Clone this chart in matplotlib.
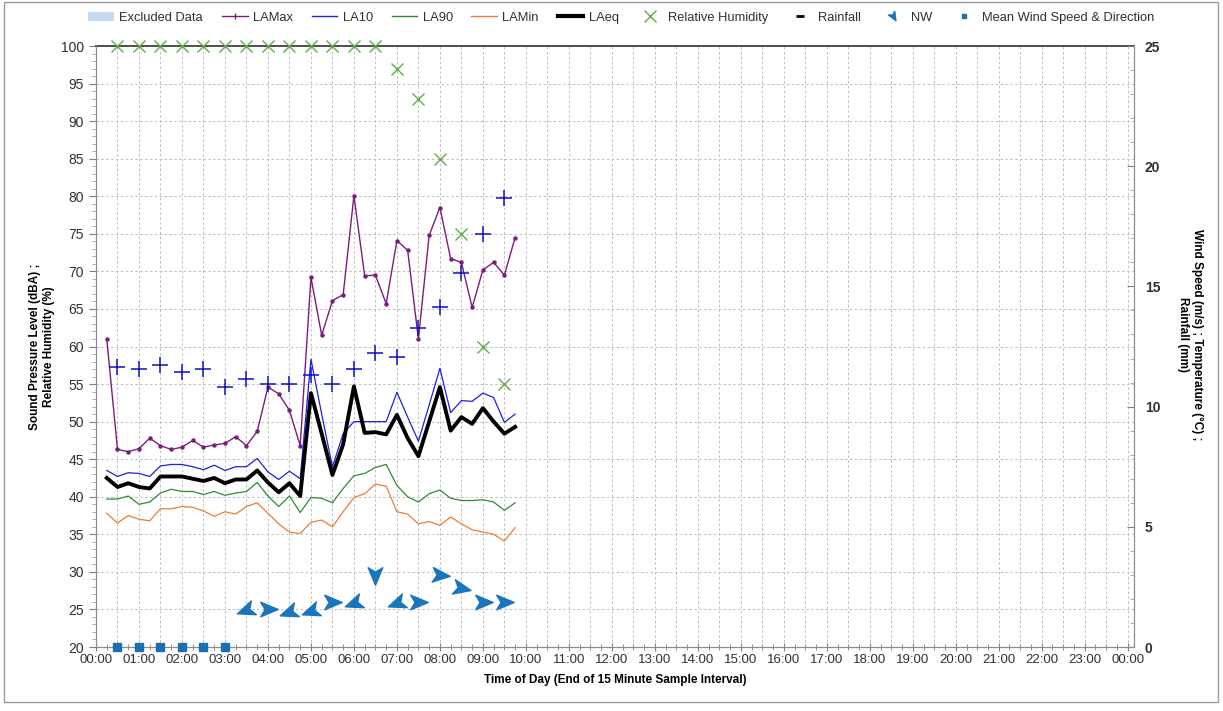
import numpy as np
import matplotlib
matplotlib.use("Agg")
import matplotlib.pyplot as plt
from matplotlib.lines import Line2D
from matplotlib.patches import Patch, Rectangle
from matplotlib.path import Path
from matplotlib.markers import MarkerStyle
from matplotlib.transforms import Affine2D

plt.rcParams['font.family'] = ['Liberation Sans', 'DejaVu Sans']

# --- Data (15 minute intervals, end of interval) ---
times_15 = ["00:15", "00:30", "00:45", "01:00", "01:15", "01:30", "01:45", "02:00",
            "02:15", "02:30", "02:45", "03:00", "03:15", "03:30", "03:45", "04:00",
            "04:15", "04:30", "04:45", "05:00", "05:15", "05:30", "05:45", "06:00",
            "06:15", "06:30", "06:45", "07:00", "07:15", "07:30", "07:45", "08:00",
            "08:15", "08:30", "08:45", "09:00", "09:15", "09:30", "09:45"]

lamax = [61.0, 46.3, 46.0, 46.4, 47.8, 46.8, 46.3, 46.6, 47.5, 46.6, 46.9, 47.1, 48.0,
         46.8, 48.7, 54.6, 53.7, 51.5, 46.8, 69.2, 61.5, 66.1, 66.9, 80.1, 69.4, 69.5,
         65.7, 74.1, 72.8, 61.0, 74.8, 78.5, 71.7, 71.2, 65.2, 70.2, 71.2, 69.5, 74.5]
la10 = [43.5, 42.7, 43.2, 43.1, 42.7, 44.1, 44.3, 44.3, 44.0, 43.6, 44.2, 43.5, 44.0,
        44.0, 45.1, 43.3, 42.3, 43.4, 42.4, 58.3, 51.0, 44.0, 48.4, 50.0, 50.0, 50.0,
        50.0, 53.9, 50.6, 47.4, 52.2, 57.1, 51.2, 52.8, 52.7, 53.8, 53.2, 49.9, 51.0]
la90 = [39.7, 39.7, 40.1, 39.0, 39.3, 40.5, 41.0, 40.7, 40.7, 40.3, 40.7, 40.2, 40.5,
        40.7, 41.9, 40.1, 38.7, 40.1, 37.9, 39.9, 39.8, 39.2, 41.1, 42.8, 43.1, 43.9,
        44.3, 41.5, 40.0, 39.3, 40.4, 40.9, 39.8, 39.5, 39.5, 39.6, 39.3, 38.2, 39.2]
lamin = [37.8, 36.5, 37.5, 37.0, 36.8, 38.4, 38.4, 38.7, 38.6, 38.1, 37.4, 38.0, 37.7,
         38.7, 39.2, 37.8, 36.4, 35.3, 35.1, 36.6, 36.9, 36.0, 38.0, 39.9, 40.4, 41.7,
         41.4, 38.0, 37.7, 36.4, 36.7, 36.2, 37.3, 36.4, 35.6, 35.3, 35.0, 34.1, 35.9]
laeq = [42.5, 41.3, 41.8, 41.3, 41.1, 42.7, 42.7, 42.7, 42.4, 42.1, 42.5, 41.8, 42.3,
        42.3, 43.5, 41.9, 40.6, 41.8, 40.1, 53.8, 48.4, 42.9, 47.0, 54.7, 48.5, 48.6,
        48.3, 50.9, 47.8, 45.4, 50.0, 54.6, 48.8, 50.6, 49.7, 51.8, 50.0, 48.4, 49.3]

# relative humidity (%), left axis
rh_times = ["00:30", "01:00", "01:30", "02:00", "02:30", "03:00", "03:30", "04:00",
            "04:30", "05:00", "05:30", "06:00", "06:30", "07:00", "07:30", "08:00",
            "08:30", "09:00", "09:30"]
rh = [100, 100, 100, 100, 100, 100, 100, 100, 100, 100, 100, 100, 100,
      97, 93, 85, 75, 60, 55]

# temperature (deg C), right axis
temp_times = rh_times
temp = [11.66, 11.55, 11.75, 11.44, 11.55, 10.81, 11.13, 10.94, 10.94, 11.31,
        10.94, 11.55, 12.25, 12.06, 13.25, 14.16, 15.56, 17.19, 18.66]

# wind speed (m/s) & direction arrows, right axis
wind_times = ["03:30", "04:00", "04:30", "05:00", "05:30", "06:00", "06:30",
              "07:00", "07:30", "08:00", "08:30", "09:00", "09:30"]
wind_speed = [1.53, 1.60, 1.47, 1.50, 1.88, 1.83, 3.00, 1.83, 1.88, 3.00, 2.47, 1.88, 1.88]
wind_heading = [200, 0, 200, 200, 0, 200, 270, 200, 0, -5, -12, 0, 0]

# calm periods (mean wind speed 0)
calm_times = ["00:30", "01:00", "01:30", "02:00", "02:30", "03:00"]
calm_speed = [0, 0, 0, 0, 0, 0]


def to_hours(labels):
    return np.array([int(s[:2]) + int(s[3:]) / 60 for s in labels])


x15 = to_hours(times_15)

fig = plt.figure(figsize=(12.23, 7.11), dpi=100)
fig.patches.append(Rectangle((0.003, 0.012), 0.993, 0.985, transform=fig.transFigure,
                             fill=False, edgecolor='#9a9a9a', linewidth=1.0))
ax = fig.add_axes([0.0785, 0.09, 0.8485, 0.8453])
ax2 = ax.twinx()

c_max = '#7B1E7A'
c_10 = '#1F1FE0'
c_90 = '#2E8B2E'
c_min = '#ED7D31'
c_rh = '#5DAE4A'
c_wind = '#1B75BB'

ax.plot(x15, lamax, color=c_max, lw=1.0, marker='o', ms=2.2, zorder=4)
ax.plot(x15, la10, color=c_10, lw=0.9, zorder=4)
ax.plot(x15, la90, color=c_90, lw=0.9, zorder=4)
ax.plot(x15, lamin, color=c_min, lw=0.9, zorder=4)
ax.plot(x15, laeq, color='black', lw=2.8, zorder=5)
ax.plot(to_hours(rh_times), rh, ls='none', marker='x', ms=9, mew=1.0, color=c_rh,
        zorder=6, clip_on=False)

ax.set_xlim(0, 24.14)
ax.set_ylim(20, 100)
ax.set_xticks(np.arange(0, 25, 1))
ax.set_xticklabels([f"{h % 24:02d}:00" for h in range(25)])
ax.set_xticks(np.arange(0, 24.1, 0.25), minor=True)
ax.set_yticks(np.arange(20, 101, 5))
ax.set_yticks(np.arange(20, 101, 1), minor=True)
ax.tick_params(axis='x', which='major', direction='inout', length=6, labelsize=9.5,
               color='#808080', labelcolor='#303030', pad=2)
ax.tick_params(axis='x', which='minor', direction='inout', length=4, color='#808080')
ax.tick_params(axis='y', which='major', direction='out', length=5, labelsize=10,
               color='#808080', labelcolor='#303030')
ax.tick_params(axis='y', which='minor', direction='out', length=3, color='#a0a0a0')

# grid: vertical every 30 min, horizontal every 5
for xv in np.arange(0.5, 24.01, 0.5):
    ax.axvline(xv, color='#bdbdbd', lw=0.7, ls=(0, (2.5, 2.5)), zorder=1)
for yv in np.arange(25, 100, 5):
    ax.axhline(yv, color='#bdbdbd', lw=0.7, ls=(0, (2.5, 2.5)), zorder=1)

for s in ['left', 'bottom', 'right']:
    ax.spines[s].set_color('#8c8c8c')
    ax2.spines[s].set_color('#8c8c8c')
ax.spines['top'].set_color('#404040')
ax.spines['top'].set_linewidth(1.3)
ax2.spines['top'].set_visible(False)

ax.set_xlabel('Time of Day (End of 15 Minute Sample Interval)', fontsize=8.5,
              fontweight='bold', labelpad=6)
ax.set_ylabel('Sound Pressure Level (dBA) ;\nRelative Humidity (%)', fontsize=8.5,
              fontweight='bold', va='center')
ax.yaxis.set_label_coords(-0.052, 0.5)

# right axis: temperature, wind
ax2.set_ylim(0, 25)
ax2.set_yticks(np.arange(0, 26, 5))
ax2.set_yticks(np.arange(0, 26, 1), minor=True)
ax2.tick_params(axis='y', which='major', direction='in', length=5, labelsize=10,
                color='#808080', labelcolor='#303030', pad=8)
ax2.tick_params(axis='y', which='minor', direction='in', length=3, color='#a0a0a0')
for lab in ax2.get_yticklabels():
    lab.set_fontweight('bold')
ax2.set_ylabel('Wind Speed (m/s) ; Temperature (°C) ;\nRainfall (mm)', fontsize=8.5,
               fontweight='bold', rotation=-90, va='center', ha='center')
ax2.yaxis.set_label_coords(1.054, 0.52)

ax2.plot(to_hours(temp_times), temp, ls='none', marker='+', ms=11, mew=1.1,
         color='#1010C8', zorder=6)

arrow_path = Path([(1.0, 0.0), (-0.8, 0.75), (-0.35, 0.0), (-0.8, -0.75), (1.0, 0.0)],
                  [Path.MOVETO, Path.LINETO, Path.LINETO, Path.LINETO, Path.CLOSEPOLY])
for xt, sp, hd in zip(to_hours(wind_times), wind_speed, wind_heading):
    m = MarkerStyle(arrow_path, transform=Affine2D().rotate_deg(hd))
    ax2.plot([xt], [sp], ls='none', marker=m, ms=14, color=c_wind, mec=c_wind, zorder=6)

ax2.plot(to_hours(calm_times), calm_speed, ls='none', marker='s', ms=5.5, color='#1B6FB0',
         zorder=6, clip_on=False)

# legend
leg_arrow = MarkerStyle(arrow_path, transform=Affine2D().rotate_deg(-60))
handles = [
    Patch(facecolor='#C6D9F0', edgecolor='none'),
    Line2D([], [], color=c_max, lw=1.0, marker='|', ms=5),
    Line2D([], [], color=c_10, lw=1.0),
    Line2D([], [], color=c_90, lw=1.0),
    Line2D([], [], color=c_min, lw=1.0),
    Line2D([], [], color='black', lw=3),
    Line2D([], [], ls='none', marker='x', ms=8, color=c_rh),
    Line2D([], [], ls='none', marker='_', ms=6, mew=2, color='black'),
    Line2D([], [], ls='none', marker=leg_arrow, ms=7, color=c_wind),
    Line2D([], [], ls='none', marker='s', ms=3.5, color='#1B6FB0'),
]
labels = ['Excluded Data', 'LAMax', 'LA10', 'LA90', 'LAMin', 'LAeq', 'Relative Humidity',
          'Rainfall', 'NW', 'Mean Wind Speed & Direction']
fig.legend(handles, labels, loc='center', bbox_to_anchor=(0.508, 0.975), ncol=10,
           frameon=False, fontsize=9.3, handlelength=2.0, columnspacing=1.45,
           handletextpad=0.4, labelcolor='#303030')

fig.savefig('out.png', dpi=100)
